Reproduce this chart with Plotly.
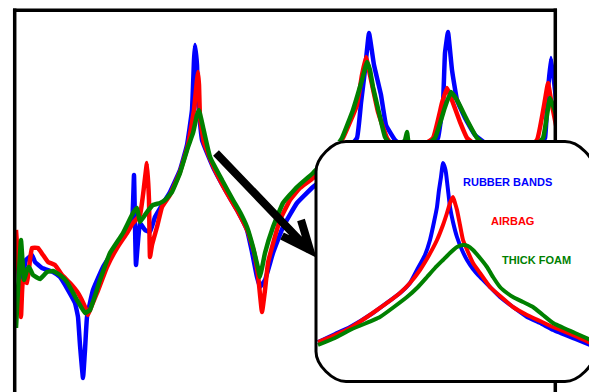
import plotly.graph_objects as go

# ---------------- main frequency response (x: frequency index, y: level) -------------
blue_f = [2, 5, 7, 11, 17, 20, 27, 38, 45, 53, 60, 63, 65, 68, 70, 72, 78, 88, 102, 112, 117, 119, 121, 125, 130, 135,
          140, 147, 155, 165, 172, 177, 179, 180, 182, 183, 187, 198, 212, 222, 232, 237, 242, 245, 250, 258, 268, 282,
          298, 315, 328, 342, 346, 350, 354, 359, 366, 371, 380, 400, 415, 423, 428, 430, 433, 437, 442, 450, 460, 480,
          505, 520, 525, 530, 533, 536, 540, 543]
blue_m = [142, 102, 112, 132, 137, 130, 124, 120, 115, 102, 89, 75, 47, 14, 42, 75, 102, 125, 147, 162, 170, 217, 127,
          169, 162, 160, 175, 187, 200, 222, 247, 282, 332, 347, 327, 292, 252, 225, 199, 182, 162, 140, 115, 105, 112,
          139, 165, 189, 205, 219, 237, 254, 289, 322, 359, 327, 297, 267, 252, 237, 242, 254, 289, 339, 360, 322, 292,
          274, 257, 242, 237, 237, 247, 254, 302, 334, 302, 272]

red_f = [1, 3, 6, 8, 12, 15, 17, 23, 28, 33, 40, 47, 55, 63, 70, 73, 77, 82, 92, 102, 112, 118, 125, 128, 132, 134, 135,
         137, 142, 147, 155, 165, 173, 179, 182, 183, 184, 185, 189, 200, 213, 223, 233, 239, 243, 247, 250, 253, 259,
         265, 275, 285, 298, 315, 328, 342, 347, 351, 355, 363, 372, 385, 400, 418, 427, 432, 435, 438, 445, 452, 475,
         505, 522, 530, 533, 536, 540, 543]
red_m = [162, 132, 75, 112, 109, 132, 144, 144, 137, 130, 127, 117, 109, 99, 85, 77, 87, 99, 125, 144, 159, 169, 177,
         197, 229, 192, 135, 147, 165, 185, 197, 220, 247, 282, 312, 320, 307, 275, 249, 222, 197, 180, 160, 140, 117,
         80, 102, 129, 152, 172, 192, 204, 214, 234, 254, 287, 317, 335, 317, 280, 254, 237, 242, 254, 289, 304, 297,
         289, 270, 254, 237, 237, 252, 292, 309, 292, 272, 257]

green_f = [1, 3, 6, 9, 12, 14, 18, 25, 32, 38, 45, 52, 62, 70, 75, 85, 95, 108, 118, 122, 125, 132, 138, 145, 150, 157,
           165, 173, 178, 182, 184, 186, 188, 195, 207, 218, 225, 232, 238, 243, 245, 247, 250, 258, 268, 282, 298, 315,
           327, 338, 347, 352, 355, 358, 365, 370, 380, 390, 392, 394, 405, 420, 430, 436, 442, 452, 462, 485, 510, 528,
           532, 535, 539, 543]
green_m = [64, 102, 152, 112, 122, 125, 117, 113, 120, 121, 117, 110, 92, 79, 82, 112, 139, 159, 179, 184, 170, 180, 187,
           189, 192, 200, 219, 245, 259, 277, 282, 274, 265, 235, 212, 192, 180, 165, 145, 124, 115, 124, 139, 165, 189,
           205, 219, 237, 254, 282, 312, 330, 322, 305, 275, 255, 242, 252, 260, 247, 242, 254, 285, 300, 292, 272, 254,
           237, 237, 254, 277, 294, 284, 272]

# ---------------- zoomed inset (single resonance) ----------------
ins_blue_f = [2, 19, 34, 57, 84, 94, 101, 109, 114, 118, 121, 123, 125, 127, 129, 130, 132, 134, 137, 141, 146, 151,
              157, 164, 174, 184, 197, 211, 224, 237, 259, 279]
ins_blue_m = [40, 48, 55, 69, 89, 99, 112, 127, 142, 160, 175, 192, 205, 219, 214, 209, 192, 175, 160, 145, 132, 122,
              113, 105, 95, 85, 75, 65, 59, 52, 43, 35]
ins_red_f = [2, 19, 34, 61, 84, 94, 104, 112, 121, 127, 131, 134, 137, 139, 141, 144, 147, 152, 157, 164, 174, 184,
             197, 211, 224, 237, 259, 279]
ins_red_m = [40, 47, 54, 72, 89, 99, 112, 125, 142, 157, 169, 179, 185, 179, 172, 157, 142, 130, 119, 109, 95, 86, 75,
             67, 61, 55, 46, 37]
ins_green_f = [2, 19, 34, 64, 91, 102, 111, 119, 127, 134, 141, 147, 152, 157, 164, 171, 177, 184, 191, 197, 207, 217,
               227, 237, 259, 279]
ins_green_m = [37, 44, 52, 65, 85, 95, 105, 114, 122, 129, 135, 137, 136, 132, 124, 115, 105, 95, 89, 85, 80, 75, 67,
               59, 49, 40]

series_names = ["RUBBER BANDS", "AIRBAG", "THICK FOAM"]
series_colors = ["#0000FF", "#FF0000", "#008000"]

# the page body has an 8px margin, so the figure is drawn 8px in from the window corner
OFF = 8
W, H = 597 - OFF, 392 - OFF
fig = go.Figure()

main = [(blue_f, blue_m), (red_f, red_m), (green_f, green_m)]
inset = [(ins_blue_f, ins_blue_m), (ins_red_f, ins_red_m), (ins_green_f, ins_green_m)]

for (fx, my), name, col in zip(main, series_names, series_colors):
    fig.add_trace(go.Scatter(x=fx, y=my, mode="lines", name=name,
                             line=dict(color=col, width=4.5, shape="spline", smoothing=0.3),
                             showlegend=False, xaxis="x", yaxis="y"))
for (fx, my), name, col in zip(inset, series_names, series_colors):
    fig.add_trace(go.Scatter(x=fx, y=my, mode="lines", name=name,
                             line=dict(color=col, width=4, shape="spline", smoothing=0.4),
                             showlegend=False, xaxis="x2", yaxis="y2"))

def px(x):
    return (x - OFF) / W

def py(y):
    return 1 - (y - OFF) / H

ax_off = dict(showgrid=False, zeroline=False, showticklabels=False, ticks="", showline=False)

fig.update_layout(
    width=W, height=H,
    margin=dict(l=0, r=0, t=0, b=0),
    paper_bgcolor="white", plot_bgcolor="white",
    xaxis=dict(domain=[px(15), px(555)], range=[0, 540], **ax_off),
    yaxis=dict(domain=[py(392), py(10)], range=[0, 382], **ax_off),
    xaxis2=dict(domain=[px(316), px(596)], range=[0, 280], anchor="y2", **ax_off),
    yaxis2=dict(domain=[py(382), py(141)], range=[0, 241], anchor="x2", **ax_off),
)

# frame of main chart (left, top, right edges; bottom lies outside the image)
frame = dict(color="black", width=3.5)
fig.add_shape(type="line", xref="paper", yref="paper", x0=px(14.7), x1=px(14.7), y0=py(8.6), y1=-0.05, line=frame, layer="above")
fig.add_shape(type="line", xref="paper", yref="paper", x0=px(13), x1=px(557), y0=py(10.3), y1=py(10.3), line=frame, layer="above")
fig.add_shape(type="line", xref="paper", yref="paper", x0=px(555.3), x1=px(555.3), y0=py(8.6), y1=py(142), line=frame, layer="above")
fig.add_shape(type="line", xref="paper", yref="paper", x0=px(555.3), x1=px(555.3), y0=py(381), y1=-0.05, line=frame, layer="above")

# rounded inset border
x0, x1, y0, y1, r = 316, 595, 141.5, 381.5, 30
k = 0.45 * r
path = (f"M {px(x0 + r)},{py(y0)} L {px(x1 - r)},{py(y0)} "
        f"C {px(x1 - r + k)},{py(y0)} {px(x1)},{py(y0 + r - k)} {px(x1)},{py(y0 + r)} "
        f"L {px(x1)},{py(y1 - r)} "
        f"C {px(x1)},{py(y1 - r + k)} {px(x1 - r + k)},{py(y1)} {px(x1 - r)},{py(y1)} "
        f"L {px(x0 + r)},{py(y1)} "
        f"C {px(x0 + r - k)},{py(y1)} {px(x0)},{py(y1 - r + k)} {px(x0)},{py(y1 - r)} "
        f"L {px(x0)},{py(y0 + r)} "
        f"C {px(x0)},{py(y0 + r - k)} {px(x0 + r - k)},{py(y0)} {px(x0 + r)},{py(y0)} Z")
fig.add_shape(type="path", xref="paper", yref="paper", path=path,
              line=dict(color="black", width=3), layer="above")

# arrow from the peak to the inset
arrow = (f"M {px(216)},{py(153)} L {px(309)},{py(250)} "
         f"M {px(301)},{py(220)} L {px(310)},{py(250)} L {px(282)},{py(236)}")
fig.add_shape(type="path", xref="paper", yref="paper", path=arrow,
              line=dict(color="black", width=8), layer="above")

# labels
labels = [(461, 182), (489, 221), (500, 260)]
for (lx, ly), name, col in zip(labels, series_names, series_colors):
    fig.add_annotation(x=px(lx), y=py(ly), xref="paper", yref="paper", text=f"<b>{name}</b>",
                       showarrow=False, xanchor="left", yanchor="middle",
                       font=dict(family="Liberation Sans, Arial", size=11, color=col))

fig.write_html("out.html")
